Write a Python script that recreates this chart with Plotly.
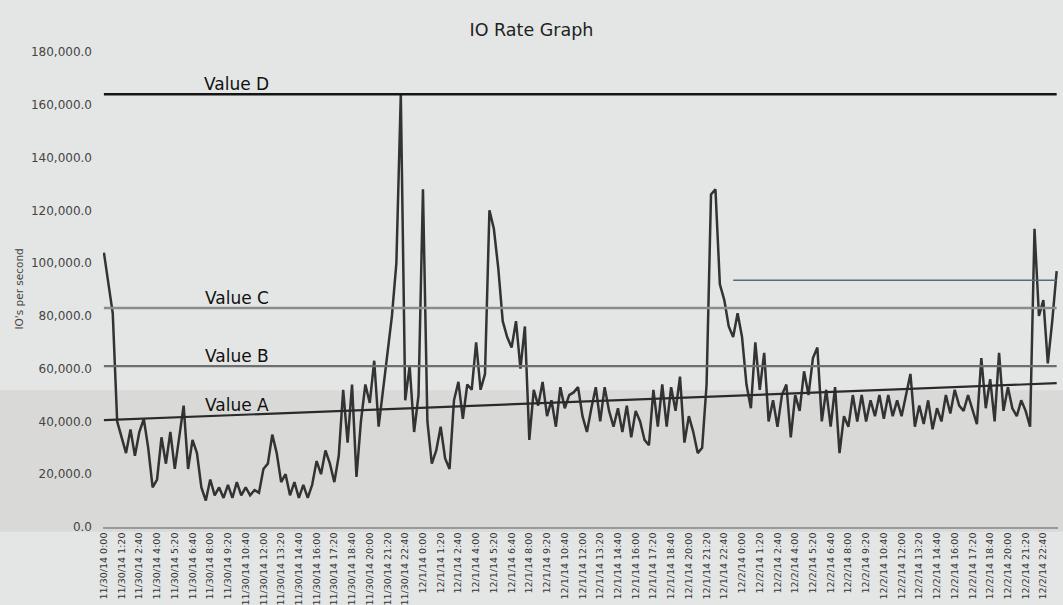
import plotly.graph_objects as go
from datetime import datetime, timedelta

# ---------------- data ----------------
start_time = datetime(2014, 11, 30, 0, 0)
step_minutes = 20

# IO rate, thousands of IOs per second, one value every 20 minutes
io_rate_k = [
    104, 92, 81, 40, 34, 28, 37, 27, 36, 41, 30, 15, 18, 34, 24, 36, 22, 34, 46, 22,
    33, 28, 15, 10, 18, 12, 15, 11, 16, 11, 17, 12, 15, 12, 14, 13, 22, 24, 35, 28,
    17, 20, 12, 17, 11, 16, 11, 16, 25, 20, 29, 24, 17, 27, 52, 32, 54, 19, 40, 54,
    47, 63, 38, 52, 66, 80, 100, 164, 48, 61, 36, 50, 128, 40, 24, 29, 38, 26, 22, 48,
    55, 41, 54, 52, 70, 52, 58, 120, 113, 98, 78, 72, 68, 78, 60, 76, 33, 52, 46, 55,
    42, 48, 38, 53, 45, 50, 51, 53, 42, 36, 45, 53, 40, 53, 44, 38, 45, 36, 46, 34,
    44, 40, 33, 31, 52, 38, 54, 38, 53, 44, 57, 32, 42, 36, 28, 30, 54, 126, 128, 92,
    86, 76, 72, 81, 72, 54, 45, 70, 52, 66, 40, 48, 38, 50, 54, 34, 50, 44, 59, 50,
    64, 68, 40, 52, 38, 53, 28, 42, 38, 50, 40, 50, 40, 48, 42, 50, 41, 50, 42, 48,
    42, 50, 58, 38, 46, 39, 48, 37, 45, 40, 50, 43, 52, 46, 44, 50, 44, 39, 64, 45,
    56, 40, 66, 44, 53, 45, 42, 48, 44, 38, 113, 80, 86, 62, 78, 97,
]
io_rate = [v * 1000 for v in io_rate_k]

# reference levels
value_d = 164000
value_c = 83000
value_b = 61000
value_a_start = 40500
value_a_end = 54500
extra_level = 93500
extra_start_index = 142

y_ticks = [0, 20000, 40000, 60000, 80000, 100000, 120000, 140000, 160000, 180000]
label_every = 4  # one label every 80 minutes

# categories (timestamps) and tick labels
n = len(io_rate)
times = [start_time + timedelta(minutes=step_minutes * i) for i in range(n)]
categories = [f"{t.month}/{t.day}/{t:%y} {t.hour}:{t.minute:02d}" for t in times]
tick_positions = list(range(0, n, label_every))
tick_labels = [categories[i] for i in tick_positions]
x_idx = list(range(n))

FONT = "DejaVu Sans, Arial, sans-serif"

# ---------------- figure ----------------
fig = go.Figure()

fig.add_trace(go.Scatter(
    x=x_idx, y=io_rate, mode="lines", name="IO rate",
    line=dict(color="#333333", width=2.5), customdata=categories,
    hovertemplate="%{customdata}<br>%{y:,.1f}<extra></extra>",
))

fig.add_trace(go.Scatter(x=[0, n - 1], y=[value_d, value_d], mode="lines",
                         line=dict(color="#151515", width=2.6), hoverinfo="skip"))
fig.add_trace(go.Scatter(x=[0, n - 1], y=[value_c, value_c], mode="lines",
                         line=dict(color="#8c8c8c", width=2.6), hoverinfo="skip"))
fig.add_trace(go.Scatter(x=[0, n - 1], y=[value_b, value_b], mode="lines",
                         line=dict(color="#6e6e6e", width=2.2), hoverinfo="skip"))
fig.add_trace(go.Scatter(x=[0, n - 1], y=[value_a_start, value_a_end], mode="lines",
                         line=dict(color="#2a2a2a", width=2.2), hoverinfo="skip"))
fig.add_trace(go.Scatter(x=[extra_start_index, n - 1], y=[extra_level, extra_level], mode="lines",
                         line=dict(color="#4f6f76", width=1.4), hoverinfo="skip"))

label_font = dict(family=FONT, size=17, color="#111111")
for text, yv in [("Value D", value_d), ("Value C", value_c), ("Value B", value_b),
                 ("Value A", value_a_start + (value_a_end - value_a_start) * 30 / (n - 1))]:
    fig.add_annotation(x=30, y=yv, xref="x", yref="y", text=text, showarrow=False,
                       xanchor="center", yanchor="bottom", font=label_font, yshift=-2)

fig.add_annotation(text="IO's per second", textangle=-90, showarrow=False,
                   xref="paper", yref="paper", x=-0.089, y=0.5,
                   xanchor="center", yanchor="middle",
                   font=dict(family=FONT, size=10.5, color="#444444"))

# slightly darker lower band (the photographed chart's lower strip)
fig.add_shape(type="rect", xref="paper", yref="paper", x0=-0.12, x1=1.01, y0=-0.01, y1=0.288,
              fillcolor="#d9dad8", line=dict(width=0), layer="below")

fig.update_layout(
    width=1063, height=605,
    margin=dict(l=103, r=5, t=52, b=78),
    paper_bgcolor="#e4e6e6", plot_bgcolor="rgba(0,0,0,0)",
    showlegend=False,
    title=dict(text="IO Rate Graph", x=0.5, xref="container", y=1 - 30 / 605,
               yref="container", xanchor="center", yanchor="middle",
               font=dict(family=FONT, size=17.5, color="#222222")),
    font=dict(family=FONT, color="#333333"),
)

fig.update_xaxes(
    range=[-0.2, n - 1 + 0.3], tickmode="array", tickvals=tick_positions, ticktext=tick_labels,
    tickangle=-90, tickfont=dict(family=FONT, size=9.5, color="#333333"), showgrid=False,
    zeroline=False, showline=True, linecolor="#9a9a9a", linewidth=1.5, ticks="",
    automargin=False,
)
fig.update_yaxes(
    range=[0, 180000], tickvals=y_ticks, tickformat=",.1f",
    tickfont=dict(family=FONT, size=12, color="#444444"), showgrid=False, zeroline=False,
    showline=False, ticks="", ticklabelstandoff=10, automargin=False,
)

fig.write_html("out.html", config={"displayModeBar": False},
               post_script="document.body.style.margin='0';document.body.style.padding='0';")
